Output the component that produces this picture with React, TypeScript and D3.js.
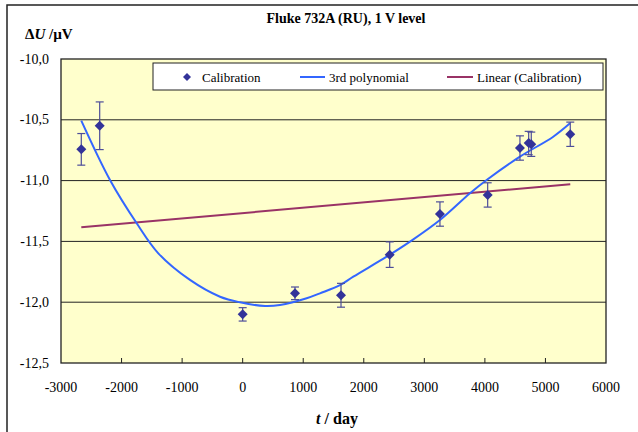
import React from "react";
import * as d3 from "d3";

// calibration points (days, µV) with uncertainties
const days = [-2665, -2361, 0, 864, 1624, 2428, 3258, 4046, 4579, 4723, 4766, 5410];
const deltaU = [-10.743, -10.549, -12.1, -11.927, -11.943, -11.609, -11.275, -11.118, -10.732, -10.691, -10.701, -10.619];
const uncert = [0.13, 0.196, 0.055, 0.052, 0.098, 0.105, 0.1, 0.1, 0.1, 0.096, 0.1, 0.1];

// 3rd order polynomial trend
const polyT = [-2665, -2191, -1750, -1393, -870, -374, -44, 369, 616, 1057, 1277, 1607, 1827, 2378, 2763, 3258, 3754, 4029, 4579, 5129, 5405];
const polyU = [-10.507, -10.995, -11.351, -11.598, -11.817, -11.955, -12.001, -12.031, -12.023, -11.968, -11.927, -11.86, -11.79, -11.626, -11.502, -11.324, -11.104, -10.995, -10.803, -10.639, -10.529];

// linear trend end points
const linT = [-2665, 5410];
const linU = [-11.384, -11.03];

const xTicks = [-3000, -2000, -1000, 0, 1000, 2000, 3000, 4000, 5000, 6000];
const yTicks = [-10, -10.5, -11, -11.5, -12, -12.5];

const W = 638;
const H = 432;
const plot = { left: 61, right: 606, top: 59, bottom: 363 };
const font = "'Liberation Serif', 'Times New Roman', serif";

export default function App() {
  const x = d3.scaleLinear().domain([-3000, 6000]).range([plot.left, plot.right]);
  const y = d3.scaleLinear().domain([-12.5, -10]).range([plot.bottom, plot.top]);

  const line = d3
    .line<[number, number]>()
    .x((d) => x(d[0]))
    .y((d) => y(d[1]));
  const polyPath = line.curve(d3.curveCatmullRom.alpha(0.5))(polyT.map((t, i) => [t, polyU[i]]));
  const linPath = d3
    .line<[number, number]>()
    .x((d) => x(d[0]))
    .y((d) => y(d[1]))(linT.map((t, i) => [t, linU[i]]));

  const diamond = (cx: number, cy: number, r: number) =>
    `M${cx},${cy - r}L${cx + r},${cy}L${cx},${cy + r}L${cx - r},${cy}Z`;

  const fmt = (v: number) => v.toFixed(1).replace(".", ",");

  return (
    <svg
      width={W}
      height={H}
      style={{ position: "absolute", left: 0, top: 0, background: "#fff" }}
      fontFamily={font}
    >
      {/* outer chart frame */}
      <rect x={7} y={5} width={W} height={H} fill="#fff" stroke="#222" strokeWidth={1.5} />

      <text x={346} y={23} textAnchor="middle" fontSize={14} fontWeight="bold">
        Fluke 732A (RU), 1 V level
      </text>
      <text x={25} y={39} fontSize={15} fontWeight="bold">
        Δ<tspan fontStyle="italic">U</tspan> /µV
      </text>

      <rect
        x={plot.left}
        y={plot.top}
        width={plot.right - plot.left}
        height={plot.bottom - plot.top}
        fill="#ffffcc"
      />

      {yTicks.slice(1, -1).map((v) => (
        <line key={v} x1={plot.left} x2={plot.right} y1={y(v)} y2={y(v)} stroke="#222" strokeWidth={1} />
      ))}

      {xTicks.slice(1, -1).map((v) => (
        <line key={v} x1={x(v)} x2={x(v)} y1={plot.bottom} y2={plot.bottom - 5} stroke="#222" strokeWidth={1} />
      ))}

      <rect
        x={plot.left}
        y={plot.top}
        width={plot.right - plot.left}
        height={plot.bottom - plot.top}
        fill="none"
        stroke="#222"
        strokeWidth={1.3}
      />

      {yTicks.map((v) => (
        <text key={v} x={49} y={y(v) + 4.5} textAnchor="end" fontSize={14}>
          {fmt(v)}
        </text>
      ))}
      {xTicks.map((v) => (
        <text key={v} x={x(v)} y={392} textAnchor="middle" fontSize={14}>
          {v}
        </text>
      ))}

      <text x={337} y={424} textAnchor="middle" fontSize={16} fontWeight="bold">
        <tspan fontStyle="italic">t</tspan>  / day
      </text>

      {/* trend lines */}
      <path d={linPath || ""} fill="none" stroke="#993366" strokeWidth={2} />
      <path d={polyPath || ""} fill="none" stroke="#3366ff" strokeWidth={2} />

      {/* error bars */}
      {days.map((t, i) => (
        <g key={"e" + i} stroke="#4d4d99" strokeWidth={1.2}>
          <line x1={x(t)} x2={x(t)} y1={y(deltaU[i] + uncert[i])} y2={y(deltaU[i] - uncert[i])} />
          <line x1={x(t) - 4} x2={x(t) + 4} y1={y(deltaU[i] + uncert[i])} y2={y(deltaU[i] + uncert[i])} />
          <line x1={x(t) - 4} x2={x(t) + 4} y1={y(deltaU[i] - uncert[i])} y2={y(deltaU[i] - uncert[i])} />
        </g>
      ))}
      {days.map((t, i) => (
        <path key={"p" + i} d={diamond(x(t), y(deltaU[i]), 5)} fill="#333399" />
      ))}

      {/* legend */}
      <rect x={153} y={63} width={450} height={27} fill="#fff" stroke="#222" strokeWidth={1} />
      <path d={diamond(187, 77, 4)} fill="#333399" />
      <text x={202} y={81.5} fontSize={13}>Calibration</text>
      <line x1={300} x2={325} y1={77} y2={77} stroke="#3366ff" strokeWidth={2} />
      <text x={329} y={81.5} fontSize={13}>3rd polynomial</text>
      <line x1={447} x2={473} y1={77} y2={77} stroke="#993366" strokeWidth={2} />
      <text x={477} y={81.5} fontSize={13}>Linear (Calibration)</text>
    </svg>
  );
}
